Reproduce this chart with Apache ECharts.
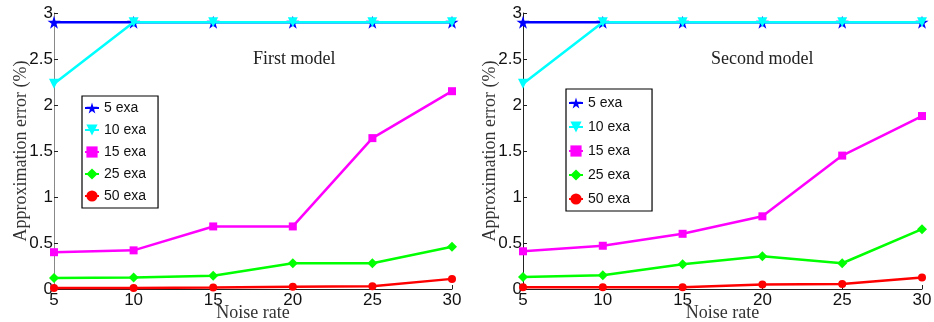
<!DOCTYPE html>
<html><head><meta charset="utf-8">
<script src="https://cdn.jsdelivr.net/npm/echarts@6/dist/echarts.min.js"></script>
<style>html,body{margin:0;padding:0;background:#fff}#c{width:934px;height:322px}</style>
</head><body><div id="c"></div>
<script>
const noiseRates = [5, 10, 15, 20, 25, 30];
const seriesNames = ['5 exa', '10 exa', '15 exa', '25 exa', '50 exa'];
const yTicks = [0, 0.5, 1, 1.5, 2, 2.5, 3];
const panelTitles = ['First model', 'Second model'];
// First model
const first5 = [2.9, 2.9, 2.9, 2.9, 2.9, 2.9];
const first10 = [2.23, 2.9, 2.9, 2.9, 2.9, 2.9];
const first15 = [0.40, 0.42, 0.68, 0.68, 1.64, 2.15];
const first25 = [0.12, 0.125, 0.145, 0.28, 0.28, 0.46];
const first50 = [0.01, 0.01, 0.015, 0.025, 0.03, 0.11];
// Second model
const second5 = [2.9, 2.9, 2.9, 2.9, 2.9, 2.9];
const second10 = [2.23, 2.9, 2.9, 2.9, 2.9, 2.9];
const second15 = [0.41, 0.47, 0.60, 0.79, 1.45, 1.88];
const second25 = [0.13, 0.15, 0.27, 0.355, 0.28, 0.65];
const second50 = [0.02, 0.02, 0.02, 0.05, 0.055, 0.125];

const starPath = 'path://M50,0 L61,35 L98,35 L68,57 L79,91 L50,70 L21,91 L32,57 L2,35 L39,35 Z';
const styles = [
  {color: '#0000ff', symbol: starPath, size: 13, rot: 0},
  {color: '#00ffff', symbol: 'triangle', size: 10, rot: 180},
  {color: '#ff00ff', symbol: 'rect', size: 8, rot: 0},
  {color: '#00ff00', symbol: 'diamond', size: 10, rot: 0},
  {color: '#ff0000', symbol: 'circle', size: 8, rot: 0}
];
const panels = [[first5, first10, first15, first25, first50], [second5, second10, second15, second25, second50]];

const serif = '"Liberation Serif", "DejaVu Serif", serif';
const sans = '"Liberation Sans", Arial, sans-serif';

function xAxis(gi) {
  return {
    type: 'value', gridIndex: gi, min: 5, max: 30, interval: 5,
    name: 'Noise rate', nameLocation: 'middle', nameGap: 15, nameMoveOverlap: false,
    nameTextStyle: {fontFamily: serif, fontSize: 18, color: '#333'},
    axisLine: {show: true, lineStyle: {color: '#222', width: 1}},
    axisTick: {show: true, inside: true, length: 4, lineStyle: {color: '#222'}},
    axisLabel: {fontFamily: sans, fontSize: 17, color: '#111', margin: 3},
    splitLine: {show: false}
  };
}
function yAxis(gi) {
  return {
    type: 'value', gridIndex: gi, min: 0, max: 3, interval: 0.5,
    name: 'Approximation error (%)', nameLocation: 'middle', nameGap: 24, nameMoveOverlap: false,
    nameTextStyle: {fontFamily: serif, fontSize: 18, color: '#333'},
    axisLine: {show: true, lineStyle: {color: gi === 0 ? '#888' : '#222', width: 1}},
    axisTick: {show: true, inside: true, length: 4, lineStyle: {color: '#222'}},
    axisLabel: {fontFamily: sans, fontSize: 17, color: '#111', margin: 1, formatter: v => String(v)},
    splitLine: {show: false}
  };
}

const series = [];
panels.forEach((data, gi) => {
  data.forEach((vals, si) => {
    const st = styles[si];
    series.push({
      name: seriesNames[si], type: 'line', xAxisIndex: gi, yAxisIndex: gi,
      data: noiseRates.map((x, i) => [x, vals[i]]),
      symbol: st.symbol, symbolSize: st.size, symbolRotate: st.rot,
      showAllSymbol: true,
      lineStyle: {color: st.color, width: 2.5},
      itemStyle: {color: st.color, borderWidth: 0},
      z: 2 + si,
      animation: false
    });
  });
});

const legendBase = {
  orient: 'vertical', data: seriesNames,
  borderColor: '#000', borderWidth: 1.2, backgroundColor: '#fff',
  itemWidth: 14, itemHeight: 14, itemGap: 8,
  textStyle: {fontFamily: sans, fontSize: 14, color: '#111'},
  selectedMode: false
};

const chart = echarts.init(document.getElementById('c'), null, {renderer: 'canvas'});
chart.setOption({
  backgroundColor: '#fff',
  animation: false,
  grid: [
    {left: 54, right: 482, top: 13, bottom: 33, containLabel: false, outerBoundsMode: 'none'},
    {left: 523, right: 12, top: 13, bottom: 33, containLabel: false, outerBoundsMode: 'none'}
  ],
  xAxis: [xAxis(0), xAxis(1)],
  yAxis: [yAxis(0), yAxis(1)],
  legend: [
    Object.assign({}, legendBase, {left: 82, top: 96, padding: [5, 12, 5, 2], itemGap: 8}),
    Object.assign({}, legendBase, {left: 566, top: 89, padding: [7, 22, 5, 2], itemGap: 10})
  ],
  graphic: [
    {type: 'text', left: 253, top: 50, style: {text: panelTitles[0], font: '18px ' + serif, fill: '#222'}},
    {type: 'text', left: 711, top: 50, style: {text: panelTitles[1], font: '18px ' + serif, fill: '#222'}}
  ],
  series: series
});
</script></body></html>
